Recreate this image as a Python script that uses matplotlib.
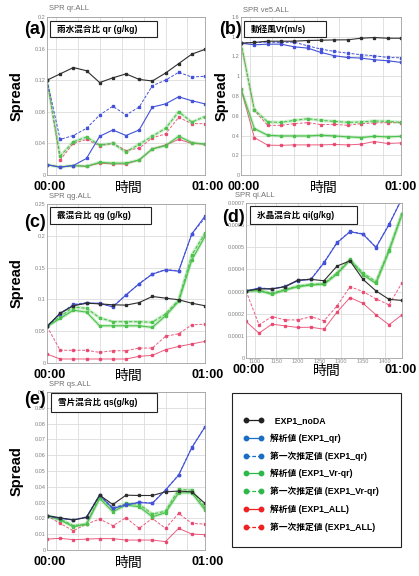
import numpy as np
import matplotlib
matplotlib.use("Agg")
import matplotlib.pyplot as plt
from matplotlib.lines import Line2D
from matplotlib.patches import Rectangle
from matplotlib.ticker import FuncFormatter

plt.rcParams["font.family"] = ["Liberation Sans", "Noto Sans CJK JP", "DejaVu Sans"]

W, H = 419, 576

# time axis (analysis cycles, 5-min steps 00:00 -> 01:00)
time_steps = [1080, 1110, 1140, 1170, 1200, 1230, 1260, 1290, 1320, 1350, 1380, 1410, 1440]
time_ticks = [1100, 1150, 1200, 1250, 1300, 1350, 1400]

# (a) rain water mixing ratio qr
qr_noda = [0.120, 0.128, 0.136, 0.132, 0.117, 0.123, 0.128, 0.121, 0.119, 0.129, 0.141, 0.153, 0.159]
qr_ana_qr = [0.013, 0.010, 0.012, 0.021, 0.049, 0.057, 0.050, 0.057, 0.086, 0.090, 0.099, 0.094, 0.090]
qr_fg_qr = [0.120, 0.045, 0.050, 0.059, 0.076, 0.087, 0.076, 0.086, 0.113, 0.120, 0.130, 0.124, 0.125]
qr_ana_vrqr = [0.013, 0.010, 0.012, 0.011, 0.016, 0.015, 0.015, 0.019, 0.033, 0.037, 0.049, 0.041, 0.039]
qr_fg_vrqr = [0.120, 0.024, 0.042, 0.048, 0.038, 0.040, 0.029, 0.039, 0.049, 0.059, 0.080, 0.067, 0.074]
qr_ana_all = [0.013, 0.010, 0.012, 0.011, 0.015, 0.014, 0.014, 0.019, 0.033, 0.038, 0.045, 0.040, 0.039]
qr_fg_all = [0.120, 0.019, 0.040, 0.045, 0.037, 0.040, 0.031, 0.034, 0.047, 0.052, 0.073, 0.065, 0.065]

# (b) radial wind Vr
vr_noda = [1.335, 1.342, 1.355, 1.355, 1.355, 1.362, 1.365, 1.368, 1.369, 1.385, 1.392, 1.385, 1.385]
vr_ana_qr = [1.335, 1.318, 1.325, 1.325, 1.298, 1.285, 1.241, 1.208, 1.190, 1.184, 1.167, 1.157, 1.140]
vr_fg_qr = [1.335, 1.342, 1.345, 1.342, 1.345, 1.308, 1.275, 1.251, 1.234, 1.218, 1.208, 1.190, 1.187]
vr_ana_vrqr = [0.872, 0.470, 0.403, 0.396, 0.396, 0.396, 0.403, 0.396, 0.386, 0.379, 0.392, 0.386, 0.392]
vr_fg_vrqr = [1.335, 0.661, 0.537, 0.533, 0.553, 0.570, 0.553, 0.543, 0.533, 0.537, 0.547, 0.543, 0.533]
vr_ana_all = [0.872, 0.379, 0.302, 0.300, 0.305, 0.305, 0.305, 0.309, 0.305, 0.312, 0.339, 0.319, 0.325]
vr_fg_all = [1.335, 0.654, 0.503, 0.503, 0.520, 0.530, 0.510, 0.513, 0.503, 0.520, 0.527, 0.530, 0.530]

# (c) graupel qg
qg_noda = [0.0575, 0.0785, 0.090, 0.094, 0.093, 0.0915, 0.091, 0.095, 0.1046, 0.102, 0.0994, 0.094, 0.090]
qg_ana_qr = [0.0575, 0.0774, 0.091, 0.094, 0.094, 0.088, 0.107, 0.1245, 0.1397, 0.1464, 0.1443, 0.203, 0.231]
qg_fg_qr = [0.0575, 0.078, 0.092, 0.095, 0.093, 0.089, 0.107, 0.125, 0.140, 0.147, 0.145, 0.203, 0.228]
qg_ana_vrqr = [0.0575, 0.070, 0.083, 0.080, 0.0585, 0.0585, 0.0585, 0.0585, 0.056, 0.074, 0.097, 0.162, 0.199]
qg_fg_vrqr = [0.0575, 0.073, 0.088, 0.086, 0.071, 0.065, 0.065, 0.065, 0.064, 0.077, 0.099, 0.170, 0.204]
qg_ana_all = [0.014, 0.0063, 0.0063, 0.0063, 0.0063, 0.0063, 0.0063, 0.0105, 0.012, 0.021, 0.026, 0.030, 0.034]
qg_fg_all = [0.0575, 0.020, 0.020, 0.020, 0.0167, 0.0193, 0.0193, 0.0235, 0.0235, 0.042, 0.046, 0.060, 0.061]

# (d) cloud ice qi
qi_noda = [0.000303, 0.000312, 0.000312, 0.000322, 0.000352, 0.000355, 0.000349, 0.000415, 0.000439, 0.000355, 0.000303, 0.000265, 0.000260]
qi_ana_qr = [0.000303, 0.000315, 0.000312, 0.000322, 0.000349, 0.000355, 0.000430, 0.000520, 0.000570, 0.000559, 0.000499, 0.000602, 0.000720]
qi_fg_qr = [0.000303, 0.000316, 0.000313, 0.000324, 0.000352, 0.000357, 0.000432, 0.000522, 0.000572, 0.000561, 0.000501, 0.000604, 0.000722]
qi_ana_vrqr = [0.000303, 0.000304, 0.000288, 0.000307, 0.000322, 0.000330, 0.000333, 0.000379, 0.000442, 0.000375, 0.000337, 0.000483, 0.000649]
qi_fg_vrqr = [0.000303, 0.000306, 0.000292, 0.000309, 0.000325, 0.000332, 0.000336, 0.000384, 0.000445, 0.000383, 0.000345, 0.000487, 0.000652]
qi_ana_all = [0.000165, 0.000112, 0.000153, 0.000145, 0.000138, 0.000139, 0.000130, 0.000207, 0.000273, 0.000247, 0.000195, 0.000150, 0.000195]
qi_fg_all = [0.000303, 0.000150, 0.000187, 0.000172, 0.000172, 0.000187, 0.000168, 0.000235, 0.000322, 0.000300, 0.000267, 0.000240, 0.000340]

# (e) snow qs
qs_noda = [0.0217, 0.0204, 0.0190, 0.0206, 0.0347, 0.0288, 0.0347, 0.0345, 0.0345, 0.0368, 0.0373, 0.0368, 0.0295]
qs_ana_qr = [0.0217, 0.0200, 0.0190, 0.0208, 0.0347, 0.0263, 0.0284, 0.0301, 0.0295, 0.0379, 0.0474, 0.0648, 0.0779]
qs_fg_qr = [0.0217, 0.0202, 0.0192, 0.0210, 0.0350, 0.0268, 0.0288, 0.0303, 0.0297, 0.0380, 0.0476, 0.0650, 0.0780]
qs_ana_vrqr = [0.0217, 0.0190, 0.0147, 0.0164, 0.0326, 0.0242, 0.0284, 0.0274, 0.0210, 0.0236, 0.0362, 0.0362, 0.0253]
qs_fg_vrqr = [0.0217, 0.0196, 0.0154, 0.0164, 0.0341, 0.0257, 0.0295, 0.0290, 0.0227, 0.0246, 0.0383, 0.0379, 0.0269]
qs_ana_all = [0.0069, 0.0074, 0.0065, 0.0069, 0.0072, 0.0072, 0.0063, 0.0063, 0.0063, 0.0053, 0.0137, 0.0101, 0.0097]
qs_fg_all = [0.0217, 0.0168, 0.0122, 0.0164, 0.0196, 0.0154, 0.0204, 0.0137, 0.0200, 0.0137, 0.0232, 0.0168, 0.0164]

legend_labels = [
    "  EXP1_noDA",
    "解析値 (EXP1_qr)",
    "第一次推定値 (EXP1_qr)",
    "解析値 (EXP1_Vr-qr)",
    "第一次推定値 (EXP1_Vr-qr)",
    "解析値 (EXP1_ALL)",
    "第一次推定値 (EXP1_ALL)",
]

BLACK = "#2e2e2e"
BLUE = "#4352d8"
GREEN = "#4cc24c"
RED = "#e8406a"
DASH = (0, (3, 1.6))


def fig_rect(left, top, right, bottom):
    return [left / W, 1 - bottom / H, (right - left) / W, (bottom - top) / H]


def ftext(x, y, s, **kw):
    fig.text(x / W, 1 - y / H, s, **kw)


def draw_panel(rect, series, ymax, ystep, title, label, box, name,
               show_xticks=False, ylabel_x=None, end_x=None):
    ax = fig.add_axes(fig_rect(*rect))
    noda, ana_qr, fg_qr, ana_vrqr, fg_vrqr, ana_all, fg_all = series
    # red, then green, then blue, black on top
    for vals, color, ls in [(fg_all, RED, DASH), (ana_all, RED, "-")]:
        ax.plot(time_steps, vals, color=color, linestyle=ls, lw=0.7,
                marker="s", ms=1.6, alpha=0.85)
    for vals, ls in [(fg_vrqr, DASH), (ana_vrqr, "-")]:
        ax.plot(time_steps, vals, color=GREEN, lw=2.4, alpha=0.25, solid_capstyle="round")
        ax.plot(time_steps, vals, color=GREEN, linestyle=ls, lw=0.8,
                marker="s", ms=1.6)
    ax.plot(time_steps, fg_qr, color=BLUE, linestyle=DASH, lw=0.7, marker="s", ms=1.6)
    ax.plot(time_steps, ana_qr, color=BLUE, lw=0.8, marker="s", ms=1.6)
    ax.plot(time_steps, noda, color=BLACK, lw=0.8, marker="s", ms=1.6)

    ax.set_xlim(time_steps[0], time_steps[-1])
    ax.set_ylim(0, ymax)
    ax.set_xticks(time_ticks)
    ax.set_yticks(np.arange(0, ymax + ystep / 2, ystep))
    ax.yaxis.set_major_formatter(FuncFormatter(lambda v, p: "%g" % round(v, 6)))
    ax.grid(True, color="#dcdcdc", lw=0.6)
    ax.set_axisbelow(True)
    ax.tick_params(axis="y", labelsize=4, colors="#808080", length=0, pad=1)
    ax.tick_params(axis="x", length=0, pad=1, labelsize=4, colors="#909090")
    if not show_xticks:
        ax.set_xticklabels([])
    for sp in ax.spines.values():
        sp.set_color("#a0a0a0")
        sp.set_linewidth(0.6)

    left, top, right, bottom = rect
    ftext(title[1], title[2], title[0], fontsize=5.5, color="#707070", va="center", ha="left")
    ftext(label[1], label[2], label[0], fontsize=13, fontweight="bold", va="center", ha="center")
    bx0, by0, bx1, by1 = box
    fig.patches.append(Rectangle((bx0 / W, 1 - by1 / H), (bx1 - bx0) / W, (by1 - by0) / H,
                                 transform=fig.transFigure, facecolor="white",
                                 edgecolor="#222222", lw=0.8, zorder=5))
    fig.text((bx0 + 7) / W, 1 - (by0 + by1) / 2 / H, name, fontsize=6.2,
             fontweight="bold", va="center", ha="left", zorder=6)
    if ylabel_x is not None:
        ftext(ylabel_x, (top + bottom) / 2, "Spread", fontsize=10.5, fontweight="bold",
              rotation=90, va="center", ha="center")
    ty = bottom + 12
    ftext(left + 3, ty, "00:00", fontsize=9, fontweight="bold", va="center", ha="center")
    ftext((left + right) / 2 + 3, ty + 1, "時間", fontsize=10, va="center", ha="center")
    ftext(end_x, ty, "01:00", fontsize=9, fontweight="bold", va="center", ha="center")
    return ax


fig = plt.figure(figsize=(W / 100, H / 100), dpi=100)

draw_panel((47, 17, 205, 175),
           (qr_noda, qr_ana_qr, qr_fg_qr, qr_ana_vrqr, qr_fg_vrqr, qr_ana_all, qr_fg_all),
           0.2, 0.04, ("SPR qr.ALL", 49, 9), ("(a)", 35, 30), (50, 21, 157, 37),
           "雨水混合比 qr (g/kg)", ylabel_x=17, end_x=208)
draw_panel((241, 17, 401, 175),
           (vr_noda, vr_ana_qr, vr_fg_qr, vr_ana_vrqr, vr_fg_vrqr, vr_ana_all, vr_fg_all),
           1.6, 0.2, ("SPR ve5.ALL", 243, 10), ("(b)", 230, 29), (244, 21, 326, 37),
           "動径風Vr(m/s)", ylabel_x=222, end_x=401)
draw_panel((47, 204, 205, 363),
           (qg_noda, qg_ana_qr, qg_fg_qr, qg_ana_vrqr, qg_fg_vrqr, qg_ana_all, qg_fg_all),
           0.25, 0.05, ("SPR qg.ALL", 49, 196), ("(c)", 35, 222), (50, 207, 151, 224),
           "霰混合比 qg (g/kg)", ylabel_x=17, end_x=208)
draw_panel((246, 203, 402, 358),
           (qi_noda, qi_ana_qr, qi_fg_qr, qi_ana_vrqr, qi_fg_vrqr, qi_ana_all, qi_fg_all),
           0.0007, 0.0001, ("SPR qi.ALL", 235, 195), ("(d)", 233, 218), (250, 206, 357, 224),
           "氷晶混合比 qi(g/kg)", show_xticks=True, end_x=401)
draw_panel((47, 392, 205, 550),
           (qs_noda, qs_ana_qr, qs_fg_qr, qs_ana_vrqr, qs_fg_vrqr, qs_ana_all, qs_fg_all),
           0.1, 0.01, ("SPR qs.ALL", 49, 385), ("(e)", 35, 400), (51, 393, 157, 412),
           "雪片混合比 qs(g/kg)", ylabel_x=17, end_x=208)

# legend box
fig.patches.append(Rectangle((232 / W, 1 - 547 / H), (401 - 232) / W, (547 - 393) / H,
                             transform=fig.transFigure, facecolor="white",
                             edgecolor="#222222", lw=0.8))
leg_colors = ["#222222", "#1a6fc4", "#1a6fc4", "#2db84a", "#2db84a", "#ee2222", "#ee2222"]
leg_styles = ["-", "-", DASH, "-", DASH, "-", DASH]
handles = [Line2D([], [], color=c, linestyle=s, lw=0.9, marker="o", ms=3.2)
           for c, s in zip(leg_colors, leg_styles)]
fig.legend(handles, legend_labels, loc="upper left", bbox_to_anchor=(243 / W, 1 - 416 / H),
           frameon=False, numpoints=2, handlelength=2.3, handletextpad=0.8,
           labelspacing=0.95, borderpad=0, borderaxespad=0,
           prop={"size": 6.3, "weight": "bold"})

fig.savefig("out.png", dpi=100)
